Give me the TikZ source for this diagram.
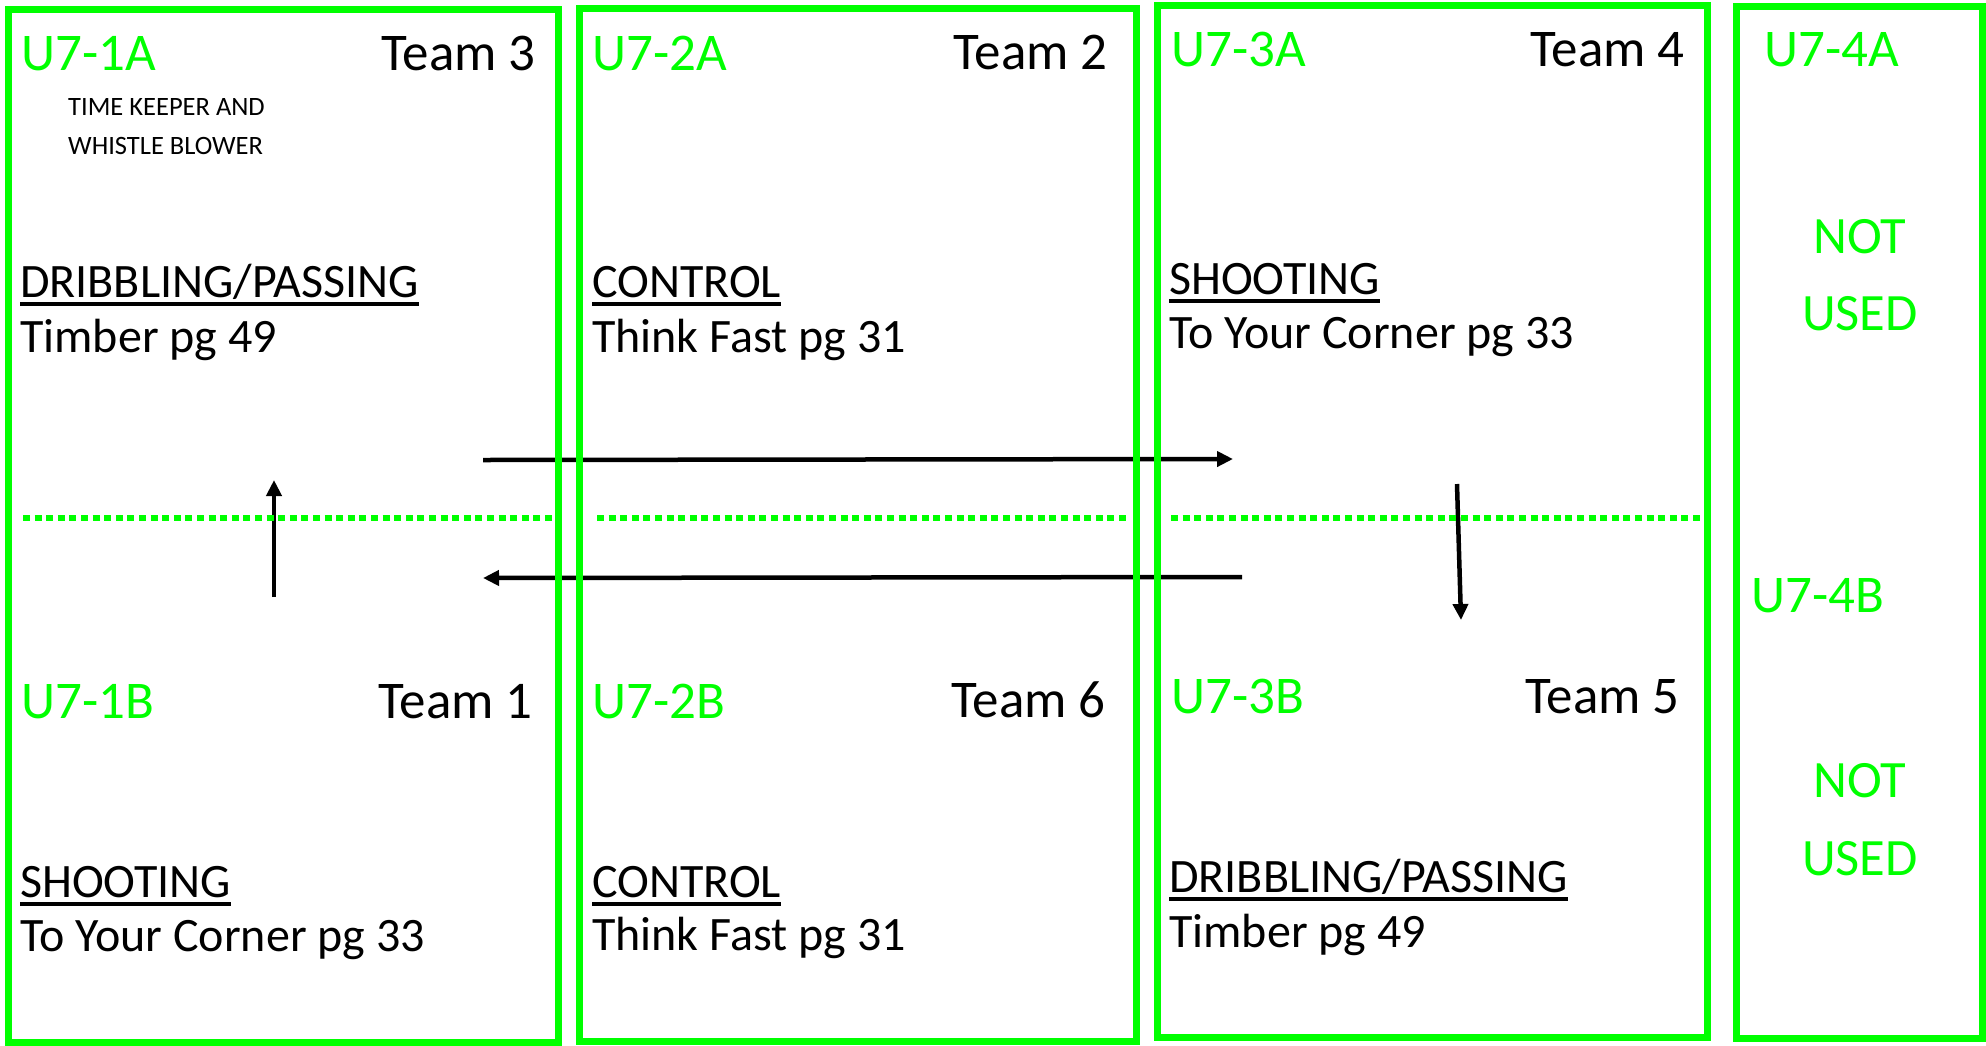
\documentclass[tikz,border=0pt]{standalone}
\usepackage{fontspec}
\setmainfont{Carlito}
\usetikzlibrary{arrows.meta}
\definecolor{fgreen}{RGB}{0,255,0}
\begin{document}
\begin{tikzpicture}[x=1pt,y=-1pt,
  field/.style={draw=fgreen,line width=7pt},
  half/.style={draw=fgreen,line width=5.5pt,dash pattern=on 7pt off 4.6pt},
  mv/.style={draw=black,line width=4.5pt,-{Triangle[length=16pt,width=15pt]}},
  lbl/.style={inner sep=0pt,font=\fontsize{53}{60}\selectfont},
  code/.style={lbl,text=fgreen,anchor=base west},
  team/.style={lbl,anchor=base east},
  act/.style={inner sep=0pt,anchor=base west,font=\fontsize{48}{54}\selectfont},
  note/.style={inner sep=0pt,anchor=base west,font=\fontsize{26.5}{30}\selectfont},
  unused/.style={inner sep=0pt,anchor=base,text=fgreen,font=\fontsize{52.5}{60}\selectfont},
  uline/.style={draw=black,line width=3.5pt}]
\useasboundingbox (0,0) rectangle (1986,1045);
\fill[white] (0,0) rectangle (1986,1045);

% movement arrows
\coordinate (a1s) at (483,460); \coordinate (a1e) at (1233,459);
\coordinate (a2s) at (1242,577); \coordinate (a2e) at (483,578);
\coordinate (a3s) at (274,597); \coordinate (a3e) at (274,480);
\coordinate (a4s) at (1457,484); \coordinate (a4e) at (1461,620);
\draw[mv] (a1s) -- (a1e);
\draw[mv] (a2s) -- (a2e);
\draw[mv] (a3s) -- (a3e);
\draw[mv] (a4s) -- (a4e);

% fields
\draw[field] (8,9) rectangle (558,1042);
\draw[field] (579,8) rectangle (1136,1041);
\draw[field] (1157,5) rectangle (1707,1037);
\draw[field] (1736,6) rectangle (1982,1038);

% half-way lines
\coordinate (h1s) at (23,518); \coordinate (h1e) at (553,518);
\coordinate (h2s) at (597,518); \coordinate (h2e) at (1127,518);
\coordinate (h3s) at (1171,518); \coordinate (h3e) at (1701,518);
\draw[half] (h1s) -- (h1e);
\draw[half] (h2s) -- (h2e);
\draw[half] (h3s) -- (h3e);

% field 1
\node[code] (c1a) at (21,70) {U7-1A};
\node[team] (t3) at (536,70) {Team 3};
\node[note] (n1) at (68,115) {TIME KEEPER AND};
\node[note] (n2) at (68,154) {WHISTLE BLOWER};
\node[act] (d1) at (20,297) {DRIBBLING/PASSING};
\node[act] (d1b) at (20,352) {Timber pg 49};
\node[code] (c1b) at (21,718) {U7-1B};
\node[team] (t1) at (533,718) {Team 1};
\node[act] (s1) at (20,897) {SHOOTING};
\node[act] (s1b) at (20,951) {To Your Corner pg 33};

% field 2
\node[code] (c2a) at (592,70) {U7-2A};
\node[team] (t2) at (1108,69) {Team 2};
\node[act] (k1) at (592,297) {CONTROL};
\node[act] (k1b) at (592,352) {Think Fast pg 31};
\node[code] (c2b) at (592,718) {U7-2B};
\node[team] (t6) at (1106,717) {Team 6};
\node[act] (k2) at (592,897) {CONTROL};
\node[act] (k2b) at (592,950) {Think Fast pg 31};

% field 3
\node[code] (c3a) at (1171,66) {U7-3A};
\node[team] (t4) at (1685,66) {Team 4};
\node[act] (s3) at (1169,294) {SHOOTING};
\node[act] (s3b) at (1169,348) {To Your Corner pg 33};
\node[code] (c3b) at (1171,713) {U7-3B};
\node[team] (t5) at (1680,713) {Team 5};
\node[act] (d3) at (1169,892) {DRIBBLING/PASSING};
\node[act] (d3b) at (1169,947) {Timber pg 49};

% field 4
\node[code] (c4a) at (1764,66) {U7-4A};
\node[unused] (u1) at (1860,253) {NOT};
\node[unused] (u2) at (1860,330) {USED};
\node[code] (c4b) at (1751,612) {U7-4B};
\node[unused] (u3) at (1860,797) {NOT};
\node[unused] (u4) at (1860,875) {USED};

% underlines
\foreach \n in {d1,s1,k1,k2,s3,d3}{
  \draw[uline] ([yshift=-7pt]\n.base west) -- ([yshift=-7pt]\n.base east);
}
\end{tikzpicture}
\end{document}
